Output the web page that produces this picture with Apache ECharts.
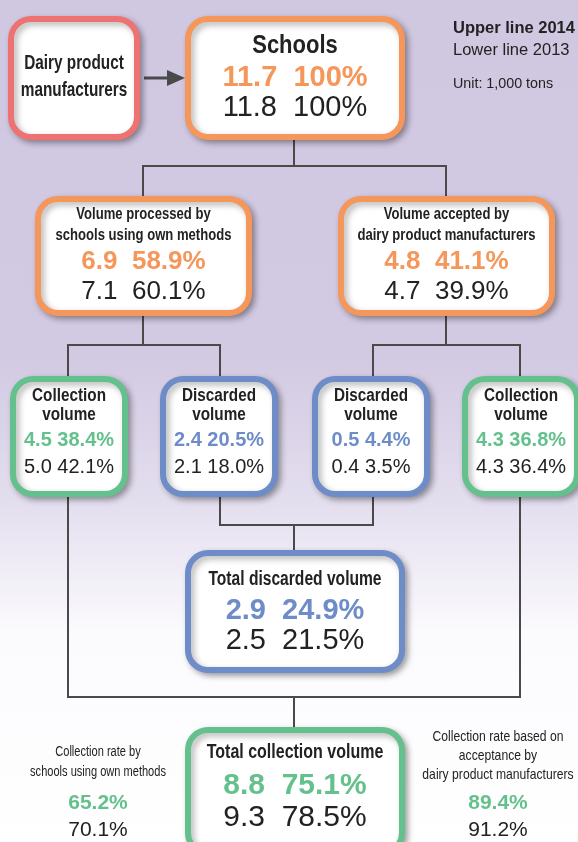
<!DOCTYPE html>
<html>
<head>
<meta charset="utf-8">
<script src="https://cdn.jsdelivr.net/npm/echarts@6/dist/echarts.min.js"></script>
<style>
  html, body { margin: 0; padding: 0; background: #fff; }
  #main { width: 578px; height: 842px; }
</style>
</head>
<body>
<div id="main"></div>
<script>
// values (1,000 tons and share of schools' total)
var boxTitles = [
  'Schools',
  'Volume processed by\nschools using own methods',
  'Volume accepted by\ndairy product manufacturers',
  'Collection\nvolume',
  'Discarded\nvolume',
  'Discarded\nvolume',
  'Collection\nvolume',
  'Total discarded volume',
  'Total collection volume'
];
var vol2014 = [11.7, 6.9, 4.8, 4.5, 2.4, 0.5, 4.3, 2.9, 8.8];
var pct2014 = [100, 58.9, 41.1, 38.4, 20.5, 4.4, 36.8, 24.9, 75.1];
var vol2013 = [11.8, 7.1, 4.7, 5.0, 2.1, 0.4, 4.3, 2.5, 9.3];
var pct2013 = [100, 60.1, 39.9, 42.1, 18.0, 3.5, 36.4, 21.5, 78.5];

var rateTitles = ['Collection rate by\nschools using own methods', 'Collection rate based on\nacceptance by\ndairy product manufacturers'];
var rate2014 = [65.2, 89.4];
var rate2013 = [70.1, 91.2];

var legendLines = ['Upper line 2014', 'Lower line 2013', 'Unit: 1,000 tons'];

// layout
var ORANGE = '#f5965a', GREEN = '#64c08c', BLUE = '#6d8cc8', RED = '#ef7272', INK = '#222';
var SANS = "'Liberation Sans', Arial, sans-serif";

// [x0, y0, x1, y1, colour, titleSize, titleScaleX, titleY(lines), numSize, num1Y, num2Y, gap]
var boxes = [
  [185, 16, 405, 140, ORANGE, 25, 0.88, [46], 29, 78, 108, '  '],
  [35, 196, 252, 316, ORANGE, 17, 0.77, [214, 235], 26, 262, 292, '  '],
  [338, 196, 555, 316, ORANGE, 17, 0.77, [214, 235], 26, 262, 292, '  '],
  [10, 376, 128, 497, GREEN, 18, 0.85, [396, 415], 20, 440, 467, ' '],
  [160, 376, 278, 497, BLUE, 18, 0.85, [396, 415], 20, 440, 467, ' '],
  [312, 376, 430, 497, BLUE, 18, 0.85, [396, 415], 20, 440, 467, ' '],
  [462, 376, 580, 497, GREEN, 18, 0.85, [396, 415], 20, 440, 467, ' '],
  [185, 550, 405, 673, BLUE, 20, 0.78, [579], 29, 611, 641, '  '],
  [185, 727, 405, 856, GREEN, 20, 0.8, [752], 30, 786, 818, '  ']
];

function fmtPct(p) { return (p === 100 ? '100' : p.toFixed(1)) + '%'; }

var els = [];

// background
els.push({
  type: 'rect', z: -10, silent: true,
  shape: { x: 0, y: 0, width: 578, height: 842 },
  style: { fill: new echarts.graphic.LinearGradient(0, 0, 0, 1, [
    { offset: 0, color: '#d0c7e1' },
    { offset: 0.42, color: '#d2c9e2' },
    { offset: 0.6, color: '#e4dfef' },
    { offset: 0.75, color: '#fbfafd' },
    { offset: 1, color: '#ffffff' }
  ]) }
});

// connectors
var LINE = { stroke: '#4a4a4a', lineWidth: 2, fill: null };
var connectors = [
  [[294, 140], [294, 166]],
  [[143, 196], [143, 166], [446, 166], [446, 196]],
  [[143, 316], [143, 345]],
  [[68, 376], [68, 345], [220, 345], [220, 376]],
  [[446, 316], [446, 345]],
  [[373, 376], [373, 345], [520, 345], [520, 376]],
  [[220, 497], [220, 525], [373, 525], [373, 497]],
  [[294, 525], [294, 550]],
  [[68, 497], [68, 697], [520, 697], [520, 497]],
  [[294, 697], [294, 727]]
];
connectors.forEach(function (pts) {
  els.push({ type: 'polyline', z: 1, shape: { points: pts }, style: LINE });
});

// arrow
els.push({ type: 'polyline', z: 1, shape: { points: [[144, 78], [172, 78]] }, style: { stroke: '#4a4a4a', lineWidth: 3 } });
els.push({ type: 'polygon', z: 1, shape: { points: [[167, 70], [185, 78], [167, 86]] }, style: { fill: '#4a4a4a' } });

function addBox(x0, y0, x1, y1, col) {
  els.push({
    type: 'rect', z: 2,
    shape: { x: x0 + 3, y: y0 + 3, width: x1 - x0 - 6, height: y1 - y0 - 6, r: 20 },
    style: { fill: '#fff', stroke: col, lineWidth: 6, shadowBlur: 6, shadowOffsetX: 3, shadowOffsetY: 3, shadowColor: 'rgba(0,0,0,0.3)' }
  });
}
function addText(txt, x, y, size, weight, col, sx, align) {
  els.push({
    type: 'text', z: 5, x: x, y: y, scaleX: sx || 1,
    style: { text: txt, x: 0, y: 0, align: align || 'center', verticalAlign: 'middle',
      fontSize: size, fontWeight: weight, fontFamily: SANS, fill: col }
  });
}

// dairy product manufacturers
addBox(8, 16, 140, 140, RED);
addText('Dairy product', 74, 63, 21, 'bold', INK, 0.73);
addText('manufacturers', 74, 90, 21, 'bold', INK, 0.73);

boxes.forEach(function (b, i) {
  addBox(b[0], b[1], b[2], b[3], b[4]);
  var cx = (b[0] + b[2]) / 2;
  var lines = boxTitles[i].split('\n');
  lines.forEach(function (ln, k) { addText(ln, cx, b[7][k], b[5], 'bold', INK, b[6]); });
  addText(vol2014[i].toFixed(1) + b[11] + fmtPct(pct2014[i]), cx, b[9], b[8], 'bold', b[4]);
  addText(vol2013[i].toFixed(1) + b[11] + fmtPct(pct2013[i]), cx, b[10], b[8], 'normal', INK);
});

// collection rates
var rateCx = [98, 498];
var rateSize = [14, 15];
var rateScale = [0.79, 0.81];
var rateTitleY = [[752, 772], [737, 756, 775]];
rateTitles.forEach(function (t, i) {
  t.split('\n').forEach(function (ln, k) { addText(ln, rateCx[i], rateTitleY[i][k], rateSize[i], 'normal', INK, rateScale[i]); });
  addText(rate2014[i].toFixed(1) + '%', rateCx[i], 803, 21, 'bold', GREEN);
  addText(rate2013[i].toFixed(1) + '%', rateCx[i], 830, 21, 'normal', INK);
});

// legend
addText(legendLines[0], 453, 28, 16.5, 'bold', INK, 1, 'left');
addText(legendLines[1], 453, 50, 16.5, 'normal', INK, 1, 'left');
addText(legendLines[2], 453, 84, 14.3, 'normal', INK, 1, 'left');

var myChart = echarts.init(document.getElementById('main'));
myChart.setOption({ animation: false, graphic: { elements: els } });
</script>
</body>
</html>
